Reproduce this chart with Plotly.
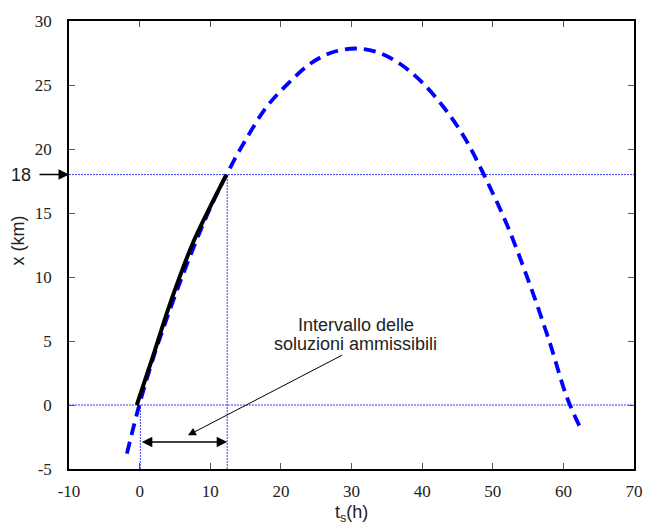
import plotly.graph_objects as go

# ---- data ----
curve_t = [-1.8, 0, 2, 4, 6, 8, 10, 12.4, 15, 18, 21, 24, 27, 30.6, 34, 37, 40, 43, 46, 49, 52, 55, 58, 60.5, 62.5]
curve_x = [-3.8, 0.1, 3.8, 7.0, 10.0, 12.8, 15.4, 18.1, 20.7, 23.3, 25.1, 26.6, 27.5, 27.85, 27.5, 26.6, 25.2, 23.3, 20.9, 17.7, 14.1, 9.8, 5.0, 0.6, -1.9]

sol_t = [-0.4, 2.0, 4.3, 7.5, 10.0, 12.3]
sol_x = [0.0, 4.0, 7.9, 12.6, 15.5, 18.0]

x_target = 18
t_low = 0.1
t_high = 12.4
arrow_y = -2.9

x_ticks = [-10, 0, 10, 20, 30, 40, 50, 60, 70]
x_ticktext = ["-10", "0", "10", "20", "30", "40", "50", "60", "70"]
y_ticks = [-5, 0, 5, 10, 15, 20, 25, 30]
y_ticktext = ["-5", "0", "5", "10", "15", "20", "25", "30"]

note_line1 = "Intervallo delle"
note_line2 = "soluzioni ammissibili"

SERIF = "Liberation Serif, Tinos, Liberation Sans"
SANS = "Liberation Sans"
DOT = "#3c3cff"

fig = go.Figure()

fig.add_trace(go.Scatter(
    x=curve_t, y=curve_x, mode="lines",
    line=dict(color="#0000ff", width=3.8, dash="12px,7px", shape="spline", smoothing=1.0),
    hoverinfo="skip", showlegend=False))

fig.add_trace(go.Scatter(
    x=sol_t, y=sol_x, mode="lines",
    line=dict(color="black", width=4, shape="spline", smoothing=0.8),
    hoverinfo="skip", showlegend=False))

dot_line = dict(color=DOT, width=1, dash="2px,1px")
shapes = [
    dict(type="line", xref="paper", yref="y", x0=0, x1=1, y0=x_target, y1=x_target,
         line=dot_line, layer="below"),
    dict(type="line", xref="paper", yref="y", x0=0, x1=1, y0=0, y1=0,
         line=dot_line, layer="below"),
    dict(type="line", xref="x", yref="y", x0=t_high, x1=t_high, y0=-5, y1=x_target,
         line=dot_line, layer="below"),
    dict(type="line", xref="x", yref="y", x0=t_low, x1=t_low, y0=-5, y1=0,
         line=dot_line, layer="below"),
]

annotations = [
    dict(x=t_high, y=arrow_y, ax=t_low, ay=arrow_y, xref="x", yref="y", axref="x", ayref="y",
         text="", showarrow=True, arrowhead=2, arrowside="end+start", arrowsize=1.4,
         arrowwidth=1.5, arrowcolor="black"),
    dict(x=6.84, y=-2.37, ax=28.9, ay=3.96, xref="x", yref="y", axref="x", ayref="y",
         text="", showarrow=True, arrowhead=2, arrowsize=1.6, arrowwidth=1, arrowcolor="black"),
    dict(x=30.6, y=(469 - 323) / 12.943 - 5, xref="x", yref="y", text=note_line1,
         xanchor="center", yanchor="middle",
         showarrow=False, font=dict(family=SANS, size=18, color="#222")),
    dict(x=30.6, y=(469 - 343) / 12.943 - 5, xref="x", yref="y", text=note_line2,
         xanchor="center", yanchor="middle",
         showarrow=False, font=dict(family=SANS, size=18, color="#222")),
    dict(x=0, y=x_target, xref="paper", yref="y", ax=-31, ay=0,
         text="", showarrow=True, arrowhead=2, arrowsize=1.4, arrowwidth=1.5, arrowcolor="black"),
    dict(x=0, y=x_target, xref="paper", yref="y", xshift=-48, text="18", showarrow=False,
         xanchor="center", yanchor="middle",
         font=dict(family=SANS, size=18, color="#222")),
    dict(x=0.5, y=0, xref="paper", yref="paper", yshift=-44, text="t<sub>s</sub>(h)",
         xanchor="center", yanchor="middle",
         showarrow=False, font=dict(family=SANS, size=18, color="#222")),
    dict(x=0, y=(469 - 238) / 453, xref="paper", yref="paper", xshift=-51, text="x (km)",
         xanchor="center", yanchor="middle",
         textangle=-90, showarrow=False, font=dict(family=SANS, size=18, color="#222")),
]

fig.update_layout(
    width=655, height=529,
    margin=dict(l=69, r=12, t=16, b=60),
    paper_bgcolor="white", plot_bgcolor="white",
    showlegend=False,
    font=dict(family=SANS),
    shapes=shapes, annotations=annotations,
)
fig.update_xaxes(range=[-10, 70], tickmode="array", tickvals=x_ticks, ticktext=x_ticktext,
                 ticks="inside", ticklen=6, tickwidth=1, tickcolor="#555",
                 showline=True, linecolor="black", linewidth=1.5, mirror="ticks",
                 showgrid=False, zeroline=False, ticklabelstandoff=6,
                 tickfont_family=SERIF, tickfont_size=17, tickfont_color="#222")
fig.update_yaxes(range=[-5, 30], tickmode="array", tickvals=y_ticks, ticktext=y_ticktext,
                 ticks="inside", ticklen=6, tickwidth=1, tickcolor="#555",
                 showline=True, linecolor="black", linewidth=1.5, mirror="ticks",
                 showgrid=False, zeroline=False, ticklabelstandoff=12,
                 tickfont_family=SERIF, tickfont_size=17, tickfont_color="#222")

fig.write_html("out.html")
